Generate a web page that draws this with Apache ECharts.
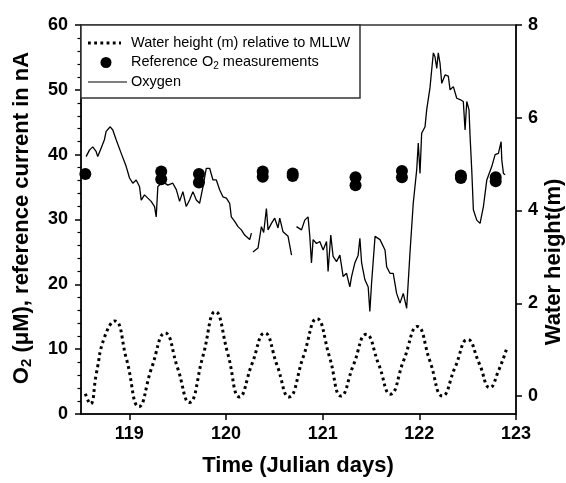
<!DOCTYPE html>
<html>
<head>
<meta charset="utf-8">
<script src="https://cdn.jsdelivr.net/npm/echarts@6/dist/echarts.min.js"></script>
<style>
html,body{margin:0;padding:0;background:#fff;}
#chart{width:566px;height:483px;}
</style>
</head>
<body>
<div id="chart"></div>
<script>
// ---- data ----
const xTicks = [119, 120, 121, 122, 123];
const rightTicks = [0, 2, 4, 6, 8];

const waterDays = [118.545,118.597,118.66,118.74,118.85,118.97,119.1,119.23,119.37,119.5,119.62,119.76,119.89,120.02,120.14,120.27,120.4,120.53,120.65,120.8,120.94,121.07,121.19,121.32,121.45,121.58,121.7,121.84,121.98,122.11,122.24,122.37,122.5,122.62,122.73,122.82,122.9];
const waterHeight = [0.05,-0.17,0.5,1.25,1.62,0.8,-0.23,0.6,1.36,0.6,-0.14,0.85,1.82,0.9,-0.02,0.7,1.36,0.65,-0.02,0.85,1.67,0.85,0.0,0.68,1.33,0.68,0.04,0.78,1.5,0.75,0.0,0.62,1.22,0.7,0.18,0.55,1.0];

const oxyDays = [118.553,118.587,118.621,118.656,118.673,118.708,118.742,118.76,118.802,118.829,118.864,118.916,118.967,119.002,119.036,119.071,119.105,119.123,119.157,119.191,119.226,119.261,119.278,119.295,119.347,119.398,119.45,119.486,119.52,119.554,119.589,119.623,119.658,119.693,119.727,119.761,119.796,119.831,119.865,119.9,119.934,119.968,120.004,120.038,120.055,120.09,120.124,120.159,120.193,120.245,120.263,120.271,120.279,120.331,120.366,120.39,120.418,120.435,120.47,120.504,120.538,120.556,120.59,120.642,120.678,120.7,120.729,120.781,120.815,120.849,120.867,120.884,120.901,120.936,120.97,121.005,121.04,121.056,121.084,121.108,121.143,121.178,121.212,121.247,121.281,121.299,121.333,121.367,121.385,121.403,121.437,121.471,121.488,121.506,121.542,121.593,121.645,121.662,121.696,121.73,121.765,121.8,121.834,121.869,121.903,121.937,121.973,121.989,122.007,122.024,122.059,122.076,122.11,122.128,122.145,122.162,122.18,122.196,122.214,122.232,122.266,122.3,122.318,122.352,122.387,122.421,122.455,122.473,122.491,122.514,122.525,122.542,122.559,122.594,122.628,122.663,122.698,122.75,122.784,122.818,122.846,122.853,122.87,122.888];
const oxyValues = [39.7,40.7,41.2,40.5,39.7,41.0,42.3,43.6,44.3,43.8,42.3,40.2,38.2,36.4,35.6,36.1,35.1,33.0,33.8,33.3,32.8,32.0,30.4,35.1,35.8,35.3,35.6,34.6,32.8,34.3,32.0,33.0,34.3,33.0,32.5,35.0,37.9,37.9,36.1,36.1,34.6,33.5,33.3,32.5,30.4,29.7,28.9,28.4,27.6,26.9,27.9,null,25.0,25.6,28.9,28.0,31.7,28.4,29.4,30.2,28.7,30.2,28.1,27.4,24.5,null,28.9,28.4,29.9,30.4,27.4,23.3,26.9,26.3,26.6,25.3,26.6,22.0,27.6,24.3,23.5,24.5,21.2,21.7,19.6,21.2,23.3,24.5,27.1,23.3,20.7,19.6,15.8,20.2,27.4,26.9,25.3,22.7,21.7,21.7,18.6,17.1,18.6,16.3,24.8,32.5,37.7,41.8,37.1,43.3,44.3,46.9,50.3,53.1,55.7,55.1,53.3,55.7,54.1,51.0,52.3,52.1,50.0,50.5,48.7,48.5,48.2,43.8,48.2,46.9,42.8,37.7,31.5,29.9,29.4,32.0,36.1,38.2,40.0,40.2,42.0,39.2,37.1,36.9];

const refDays = [118.545,119.33,119.33,119.72,119.72,120.38,120.38,120.69,120.69,121.34,121.34,121.82,121.82,122.43,122.43,122.79,122.79];
const refValues = [37.0,37.4,36.2,37.0,35.7,37.4,36.6,37.1,36.7,36.5,35.3,37.5,36.5,36.8,36.4,36.5,35.9];

// ---- chart ----
const chart = echarts.init(document.getElementById('chart'), null, {renderer: 'canvas'});
const FONT = '"Liberation Sans", Arial, Helvetica, sans-serif';
const tickLabel = {color: '#000', fontFamily: FONT, fontWeight: 'bold', fontSize: 18};

const option = {
  animation: false,
  backgroundColor: '#fff',
  grid: {left: 81, right: 50, top: 25, bottom: 69, show: true, borderColor: '#333', borderWidth: 1.5, backgroundColor: 'transparent'},
  xAxis: {
    type: 'value', min: 118.5, max: 123,
    axisLine: {show: true, lineStyle: {color: '#000', width: 1.5}},
    axisTick: {show: true, length: 6, lineStyle: {color: '#000', width: 1.5}, customValues: xTicks},
    axisLabel: Object.assign({margin: 11, customValues: xTicks}, tickLabel),
    splitLine: {show: false}
  },
  yAxis: [
    {
      type: 'value', min: 0, max: 60, interval: 10, position: 'left',
      axisLine: {show: true, lineStyle: {color: '#000', width: 1.5}},
      axisTick: {show: true, length: 6, lineStyle: {color: '#000', width: 1.5}},
      minorTick: {show: true, splitNumber: 5, length: 3.5, lineStyle: {color: '#000', width: 1.2}},
      axisLabel: Object.assign({margin: 13}, tickLabel),
      splitLine: {show: false}, minorSplitLine: {show: false}
    },
    {
      type: 'value', min: -0.387, max: 8, position: 'right',
      axisLine: {show: true, lineStyle: {color: '#000', width: 1.5}},
      axisTick: {show: true, length: 6, lineStyle: {color: '#000', width: 1.5}, customValues: rightTicks},
      axisLabel: Object.assign({margin: 12, customValues: rightTicks}, tickLabel),
      splitLine: {show: false}
    }
  ],
  series: [
    {
      name: 'Water height', type: 'line', yAxisIndex: 1, smooth: 0.5, symbol: 'none',
      data: waterDays.map((d, i) => [d, waterHeight[i]]),
      lineStyle: {color: '#000', width: 3, type: [2.8, 3.4], cap: 'butt'}
    },
    {
      name: 'Oxygen', type: 'line', yAxisIndex: 0, symbol: 'none', connectNulls: false,
      data: oxyDays.map((d, i) => [d, oxyValues[i] === null ? '-' : oxyValues[i]]),
      lineStyle: {color: '#000', width: 1.3}
    },
    {
      name: 'Reference', type: 'scatter', yAxisIndex: 0, symbol: 'circle', symbolSize: 12,
      data: refDays.map((d, i) => [d, refValues[i]]),
      itemStyle: {color: '#000', opacity: 1},
      z: 5
    }
  ],
  graphic: [
    // legend box
    {type: 'rect', shape: {x: 81, y: 25, width: 279, height: 73}, style: {fill: '#fff', stroke: '#333', lineWidth: 1.5}, z: 100},
    {type: 'line', shape: {x1: 88, y1: 43, x2: 121, y2: 43}, style: {stroke: '#000', lineWidth: 3, lineDash: [2.8, 3.4]}, z: 101},
    {type: 'circle', shape: {cx: 106, cy: 62.5, r: 5.5}, style: {fill: '#000'}, z: 101},
    {type: 'line', shape: {x1: 88, y1: 82, x2: 127, y2: 82}, style: {stroke: '#000', lineWidth: 1.2}, z: 101},
    {type: 'text', x: 131, y: 43, z: 101, style: {text: 'Water height (m) relative to MLLW', font: '14.5px ' + FONT, fill: '#000', verticalAlign: 'middle'}},
    {type: 'text', x: 131, y: 62, z: 101, style: {
      text: '{a|Reference O}{s|2}{a| measurements}', verticalAlign: 'middle',
      rich: {a: {fontFamily: FONT, fontSize: 14.5, fill: '#000', color: '#000'}, s: {fontFamily: FONT, fontSize: 10, padding: [8, 0, 0, 0], color: '#000'}}
    }},
    {type: 'text', x: 131, y: 82, z: 101, style: {text: 'Oxygen', font: '14.5px ' + FONT, fill: '#000', verticalAlign: 'middle'}},
    // axis titles
    {type: 'text', x: 298, y: 466, style: {text: 'Time (Julian days)', font: 'bold 22px ' + FONT, fill: '#000', align: 'center', verticalAlign: 'middle'}},
    {type: 'text', x: 22, y: 218, rotation: Math.PI / 2, style: {
      text: '{a|O}{s|2}{a| (\u03bcM), reference current in nA}', align: 'center', verticalAlign: 'middle',
      rich: {a: {fontFamily: FONT, fontWeight: 'bold', fontSize: 22, color: '#000'}, s: {fontFamily: FONT, fontWeight: 'bold', fontSize: 15, padding: [10, 0, 0, 0], color: '#000'}}
    }},
    {type: 'text', x: 554, y: 262, rotation: Math.PI / 2, style: {text: 'Water height(m)', font: 'bold 22px ' + FONT, fill: '#000', align: 'center', verticalAlign: 'middle'}}
  ]
};
chart.setOption(option);
</script>
</body>
</html>
